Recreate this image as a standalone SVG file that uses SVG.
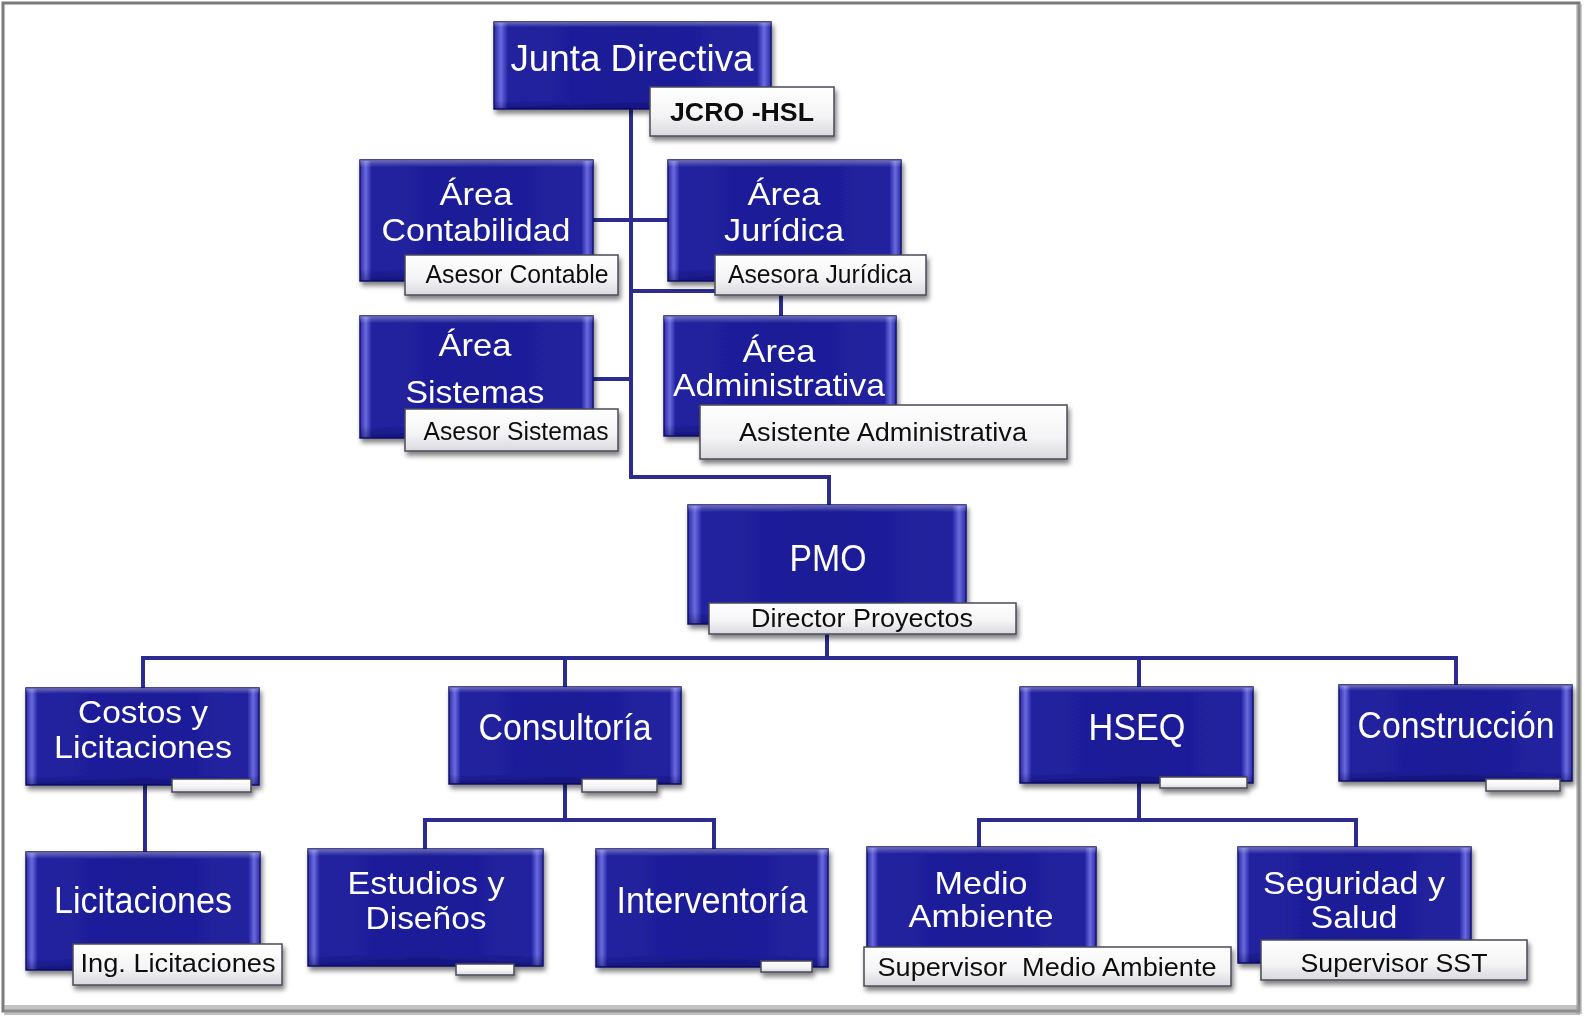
<svg xmlns="http://www.w3.org/2000/svg" width="1585" height="1019" viewBox="0 0 1585 1019">
<defs>
<linearGradient id="gh" x1="0" y1="0" x2="1" y2="0">
<stop offset="0" stop-color="#2a2aa6"/>
<stop offset="0.025" stop-color="#6a6ae0"/>
<stop offset="0.05" stop-color="#2222a0"/>
<stop offset="0.5" stop-color="#1c1c96"/>
<stop offset="0.95" stop-color="#2222a0"/>
<stop offset="0.975" stop-color="#6a6ae0"/>
<stop offset="1" stop-color="#2a2aa6"/>
</linearGradient>
<linearGradient id="gv" x1="0" y1="0" x2="0" y2="1">
<stop offset="0" stop-color="#ffffff" stop-opacity="0.35"/>
<stop offset="0.06" stop-color="#ffffff" stop-opacity="0"/>
<stop offset="0.9" stop-color="#000040" stop-opacity="0"/>
<stop offset="1" stop-color="#000040" stop-opacity="0.35"/>
</linearGradient>
<linearGradient id="gs" x1="0" y1="0" x2="0" y2="1">
<stop offset="0" stop-color="#ffffff"/>
<stop offset="0.6" stop-color="#f4f4f6"/>
<stop offset="1" stop-color="#d8d8de"/>
</linearGradient>
<filter id="sh" x="-10%" y="-10%" width="130%" height="140%">
<feGaussianBlur in="SourceAlpha" stdDeviation="2.5"/>
<feOffset dx="2" dy="4" result="b"/>
<feComponentTransfer><feFuncA type="linear" slope="0.5"/></feComponentTransfer>
<feMerge><feMergeNode/><feMergeNode in="SourceGraphic"/></feMerge>
</filter>
</defs>
<style>
.box{fill:url(#gh);stroke:#14146e;stroke-width:1.5}
.bev{fill:url(#gv)}
.sub{fill:url(#gs);stroke:#4a4a5a;stroke-width:1.5}
.t{font-family:"Liberation Sans",Arial,sans-serif;font-size:36px;fill:#ffffff;text-anchor:middle}
.t2{font-family:"Liberation Sans",Arial,sans-serif;font-size:32px;fill:#ffffff;text-anchor:middle}
.s{font-family:"Liberation Sans",Arial,sans-serif;font-size:25px;fill:#111111;text-anchor:middle}
.c{fill:none;stroke:#2b2b90;stroke-width:4}
</style>
<rect x="0" y="0" width="1585" height="1019" fill="#ffffff"/>
<rect x="3" y="3" width="1576" height="1008" fill="none" stroke="#7a7a7a" stroke-width="3"/>
<rect x="4" y="1005" width="1576" height="10" fill="#9a9a9a" opacity="0.6"/>
<rect x="1576" y="4" width="6" height="1010" fill="#9a9a9a" opacity="0.5"/>

<g id="connectors">
<path class="c" d="M631,109 V477 H829 V505"/>
<path class="c" d="M593,220 H668"/>
<path class="c" d="M631,291 H715"/>
<path class="c" d="M781,295 V316"/>
<path class="c" d="M593,379 H631"/>
<path class="c" d="M827,634 V658"/>
<path class="c" d="M143,688 V658 H1456 V685"/>
<path class="c" d="M565,658 V687"/>
<path class="c" d="M1139,658 V687"/>
<path class="c" d="M145,785 V852"/>
<path class="c" d="M565,784 V820"/>
<path class="c" d="M425,849 V820 H714 V849"/>
<path class="c" d="M1139,783 V820"/>
<path class="c" d="M979,847 V820 H1356 V847"/>
</g>

<g id="junta" filter="url(#sh)">
<rect class="box" x="494" y="22" width="277" height="87"/><rect class="bev" x="494" y="22" width="277" height="87"/>
<text class="t" x="632" y="71" textLength="243" lengthAdjust="spacingAndGlyphs">Junta Directiva</text>
<rect class="sub" x="650" y="87" width="184" height="49"/>
<text class="s" x="742" y="121" style="font-weight:bold;font-size:26px" textLength="144" lengthAdjust="spacingAndGlyphs">JCRO -HSL</text>
</g>

<g id="contabilidad" filter="url(#sh)">
<rect class="box" x="360" y="160" width="233" height="121"/><rect class="bev" x="360" y="160" width="233" height="121"/>
<text class="t2" x="476" y="205" textLength="73" lengthAdjust="spacingAndGlyphs">Área</text>
<text class="t2" x="476" y="241" textLength="189" lengthAdjust="spacingAndGlyphs">Contabilidad</text>
<rect class="sub" x="405" y="255" width="213" height="40"/>
<text class="s" x="517" y="283" textLength="183" lengthAdjust="spacingAndGlyphs">Asesor Contable</text>
</g>

<g id="juridica" filter="url(#sh)">
<rect class="box" x="668" y="160" width="233" height="121"/><rect class="bev" x="668" y="160" width="233" height="121"/>
<text class="t2" x="784" y="205" textLength="73" lengthAdjust="spacingAndGlyphs">Área</text>
<text class="t2" x="784" y="241" textLength="120" lengthAdjust="spacingAndGlyphs">Jurídica</text>
<rect class="sub" x="715" y="255" width="211" height="40"/>
<text class="s" x="820" y="283" textLength="184" lengthAdjust="spacingAndGlyphs">Asesora Jurídica</text>
</g>

<g id="sistemas" filter="url(#sh)">
<rect class="box" x="360" y="316" width="233" height="122"/><rect class="bev" x="360" y="316" width="233" height="122"/>
<text class="t2" x="475" y="356" textLength="73" lengthAdjust="spacingAndGlyphs">Área</text>
<text class="t2" x="475" y="403" textLength="139" lengthAdjust="spacingAndGlyphs">Sistemas</text>
<rect class="sub" x="405" y="409" width="213" height="42"/>
<text class="s" x="516" y="440" textLength="185" lengthAdjust="spacingAndGlyphs">Asesor Sistemas</text>
</g>

<g id="administrativa" filter="url(#sh)">
<rect class="box" x="664" y="316" width="232" height="120"/><rect class="bev" x="664" y="316" width="232" height="120"/>
<text class="t2" x="779" y="362" textLength="73" lengthAdjust="spacingAndGlyphs">Área</text>
<text class="t2" x="779" y="396" textLength="212" lengthAdjust="spacingAndGlyphs">Administrativa</text>
<rect class="sub" x="700" y="405" width="367" height="54"/>
<text class="s" x="883" y="441" style="font-size:26px" textLength="288" lengthAdjust="spacingAndGlyphs">Asistente Administrativa</text>
</g>

<g id="pmo" filter="url(#sh)">
<rect class="box" x="688" y="505" width="278" height="119"/><rect class="bev" x="688" y="505" width="278" height="119"/>
<text class="t" x="828" y="571" textLength="77" lengthAdjust="spacingAndGlyphs">PMO</text>
<rect class="sub" x="709" y="603" width="307" height="31"/>
<text class="s" x="862" y="627" style="font-size:26px" textLength="222" lengthAdjust="spacingAndGlyphs">Director Proyectos</text>
</g>

<g id="costos" filter="url(#sh)">
<rect class="box" x="26" y="688" width="233" height="97"/><rect class="bev" x="26" y="688" width="233" height="97"/>
<text class="t2" x="143" y="723" textLength="130" lengthAdjust="spacingAndGlyphs">Costos y</text>
<text class="t2" x="143" y="758" textLength="178" lengthAdjust="spacingAndGlyphs">Licitaciones</text>
<rect class="sub" x="172" y="779" width="79" height="13"/>
</g>

<g id="consultoria" filter="url(#sh)">
<rect class="box" x="449" y="687" width="232" height="97"/><rect class="bev" x="449" y="687" width="232" height="97"/>
<text class="t" x="565" y="740" textLength="173" lengthAdjust="spacingAndGlyphs">Consultoría</text>
<rect class="sub" x="582" y="779" width="75" height="13"/>
</g>

<g id="hseq" filter="url(#sh)">
<rect class="box" x="1020" y="687" width="233" height="96"/><rect class="bev" x="1020" y="687" width="233" height="96"/>
<text class="t" x="1137" y="740" textLength="97" lengthAdjust="spacingAndGlyphs">HSEQ</text>
<rect class="sub" x="1160" y="777" width="87" height="11"/>
</g>

<g id="construccion" filter="url(#sh)">
<rect class="box" x="1339" y="685" width="233" height="96"/><rect class="bev" x="1339" y="685" width="233" height="96"/>
<text class="t" x="1456" y="738" textLength="197" lengthAdjust="spacingAndGlyphs">Construcción</text>
<rect class="sub" x="1486" y="779" width="74" height="12"/>
</g>

<g id="licitaciones" filter="url(#sh)">
<rect class="box" x="26" y="852" width="234" height="118"/><rect class="bev" x="26" y="852" width="234" height="118"/>
<text class="t" x="143" y="913" textLength="178" lengthAdjust="spacingAndGlyphs">Licitaciones</text>
<rect class="sub" x="73" y="944" width="209" height="41"/>
<text class="s" x="178" y="972" textLength="195" lengthAdjust="spacingAndGlyphs">Ing. Licitaciones</text>
</g>

<g id="estudios" filter="url(#sh)">
<rect class="box" x="308" y="849" width="235" height="117"/><rect class="bev" x="308" y="849" width="235" height="117"/>
<text class="t2" x="426" y="894" textLength="157" lengthAdjust="spacingAndGlyphs">Estudios y</text>
<text class="t2" x="426" y="929" textLength="121" lengthAdjust="spacingAndGlyphs">Diseños</text>
<rect class="sub" x="456" y="964" width="58" height="11"/>
</g>

<g id="interventoria" filter="url(#sh)">
<rect class="box" x="596" y="849" width="232" height="118"/><rect class="bev" x="596" y="849" width="232" height="118"/>
<text class="t" x="712" y="913" textLength="191" lengthAdjust="spacingAndGlyphs">Interventoría</text>
<rect class="sub" x="761" y="961" width="51" height="11"/>
</g>

<g id="medio" filter="url(#sh)">
<rect class="box" x="867" y="847" width="229" height="115"/><rect class="bev" x="867" y="847" width="229" height="115"/>
<text class="t2" x="981" y="894" textLength="93" lengthAdjust="spacingAndGlyphs">Medio</text>
<text class="t2" x="981" y="927" textLength="145" lengthAdjust="spacingAndGlyphs">Ambiente</text>
<rect class="sub" x="864" y="947" width="367" height="39"/>
<text class="s" x="1047" y="976" xml:space="preserve" textLength="339" lengthAdjust="spacingAndGlyphs">Supervisor  Medio Ambiente</text>
</g>

<g id="seguridad" filter="url(#sh)">
<rect class="box" x="1238" y="847" width="233" height="116"/><rect class="bev" x="1238" y="847" width="233" height="116"/>
<text class="t2" x="1354" y="894" textLength="182" lengthAdjust="spacingAndGlyphs">Seguridad y</text>
<text class="t2" x="1354" y="928" textLength="87" lengthAdjust="spacingAndGlyphs">Salud</text>
<rect class="sub" x="1261" y="940" width="266" height="40"/>
<text class="s" x="1394" y="972" textLength="187" lengthAdjust="spacingAndGlyphs">Supervisor SST</text>
</g>
</svg>
